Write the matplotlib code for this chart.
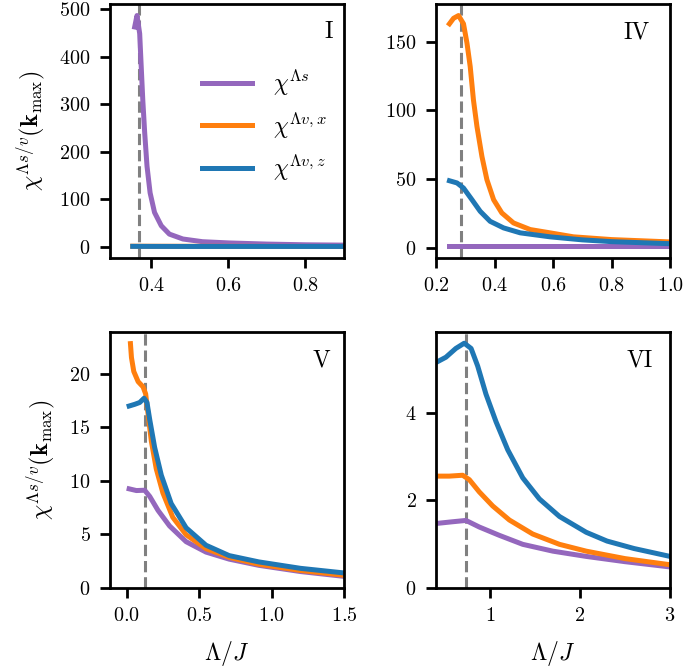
import matplotlib
matplotlib.use("Agg")
import matplotlib.pyplot as plt

plt.rcParams['font.family'] = 'serif'
plt.rcParams['font.serif'] = ['cmr10']
plt.rcParams['mathtext.fontset'] = 'cm'
plt.rcParams['axes.formatter.use_mathtext'] = True

PURPLE = '#9467bd'
ORANGE = '#ff7f0e'
BLUE = '#1f77b4'

# ---- Panel I ----
I_x_s = [0.357, 0.363, 0.370, 0.374, 0.378, 0.383, 0.389, 0.397, 0.4085, 0.426, 0.447, 0.482, 0.533, 0.602, 0.7, 0.8, 0.9]
I_y_s = [463, 487, 449, 379, 310, 240, 170, 114, 72.6, 44.6, 27, 16.7, 11, 8.4, 6, 4.5, 3.8]
I_x_v = [0.352, 0.4, 0.5, 0.6, 0.7, 0.8, 0.9]
I_y_vx = [1.5, 1.4, 1.3, 1.2, 1.1, 1.0, 1.0]
I_y_vz = [1.2, 1.1, 1.0, 1.0, 1.0, 1.0, 1.0]
I_crit = 0.368

# ---- Panel IV ----
IV_x_vx = [0.246, 0.260, 0.277, 0.294, 0.306, 0.317, 0.328, 0.340, 0.357, 0.374, 0.397, 0.425, 0.465, 0.522, 0.590, 0.67, 0.8, 1.0]
IV_y_vx = [163, 167, 169, 163, 148.8, 131.8, 107.6, 88.3, 66.5, 49.6, 35, 25.4, 18.1, 13.3, 10.9, 8, 6, 4.3]
IV_x_vz = [0.246, 0.272, 0.294, 0.323, 0.351, 0.385, 0.431, 0.488, 0.590, 0.7, 0.8, 1.0]
IV_y_vz = [48.8, 47.2, 43.5, 35, 26.6, 19.3, 14.5, 10.9, 8, 5.8, 4.5, 3.0]
IV_x_s = [0.246, 0.4, 0.6, 0.8, 1.0]
IV_y_s = [1.0, 1.0, 1.0, 1.0, 1.0]
IV_crit = 0.286

# ---- Panel V ----
V_x_vx = [0.027, 0.034, 0.05, 0.08, 0.114, 0.132, 0.148, 0.171, 0.205, 0.251, 0.319, 0.411, 0.548, 0.708, 0.913, 1.2, 1.5]
V_y_vx = [22.8, 21.5, 20.2, 19.25, 18.76, 18.1, 16.3, 13.7, 11.1, 8.84, 6.57, 4.94, 3.64, 2.83, 2.18, 1.6, 1.15]
V_x_vz = [0.018, 0.057, 0.091, 0.121, 0.141, 0.160, 0.194, 0.240, 0.308, 0.411, 0.548, 0.708, 0.913, 1.2, 1.5]
V_y_vz = [16.97, 17.13, 17.3, 17.7, 17.3, 15.7, 13.1, 10.5, 7.86, 5.59, 3.96, 2.99, 2.40, 1.8, 1.37]
V_x_s = [0.018, 0.068, 0.125, 0.160, 0.217, 0.297, 0.411, 0.548, 0.708, 0.913, 1.2, 1.5]
V_y_s = [9.23, 9.07, 9.1, 8.52, 7.22, 5.76, 4.29, 3.32, 2.66, 2.08, 1.5, 1.05]
V_crit = 0.13

# ---- Panel VI ----
VI_x_vz = [0.40, 0.51, 0.62, 0.714, 0.79, 0.863, 0.955, 1.067, 1.197, 1.364, 1.549, 1.772, 2.069, 2.3, 2.6, 3.0]
VI_y_vz = [5.14, 5.26, 5.46, 5.58, 5.46, 5.06, 4.42, 3.79, 3.15, 2.51, 2.03, 1.63, 1.27, 1.07, 0.9, 0.72]
VI_x_vx = [0.40, 0.547, 0.696, 0.77, 0.881, 1.03, 1.215, 1.475, 1.772, 2.069, 2.5, 3.0]
VI_y_vx = [2.55, 2.55, 2.57, 2.47, 2.19, 1.87, 1.55, 1.23, 0.995, 0.84, 0.67, 0.53]
VI_x_s = [0.40, 0.585, 0.733, 0.881, 1.104, 1.364, 1.698, 2.069, 2.5, 3.0]
VI_y_s = [1.47, 1.51, 1.54, 1.39, 1.2, 0.995, 0.84, 0.72, 0.6, 0.48]
VI_crit = 0.733

labels = [r'$\chi^{\Lambda s}$', r'$\chi^{\Lambda v,x}$', r'$\chi^{\Lambda v,z}$']

W, H = 685, 670
fig = plt.figure(figsize=(W / 100, H / 100), dpi=100)

def axes_px(l, t, r, b):
    return fig.add_axes([l / W, 1 - b / H, (r - l) / W, (b - t) / H])

axI = axes_px(110, 4, 344, 258)
axIV = axes_px(436, 4, 670, 258)
axV = axes_px(110, 332, 344, 588)
axVI = axes_px(436, 332, 670, 588)

LW = 3.6
DASH = dict(color='gray', ls='--', lw=2.2)

def style(ax):
    for sp in ax.spines.values():
        sp.set_linewidth(2.0)
    ax.tick_params(direction='out', length=7, width=2.0, labelsize=14.5, pad=7)

# Panel I
axI.axvline(I_crit, **DASH)
axI.plot(I_x_s, I_y_s, color=PURPLE, lw=LW, label=labels[0])
axI.plot(I_x_v, I_y_vx, color=ORANGE, lw=LW, label=labels[1])
axI.plot(I_x_v, I_y_vz, color=BLUE, lw=LW, label=labels[2])
axI.set_xlim(0.293, 0.9)
axI.set_xticks([0.4, 0.6, 0.8])
axI.set_yticks([0, 100, 200, 300, 400, 500])
axI.legend(loc='upper left', bbox_to_anchor=(0.395, 0.75), frameon=False,
           fontsize=17, handlelength=2.1, borderpad=0, borderaxespad=0,
           labelspacing=0.5, handletextpad=0.9)

# Panel IV
axIV.axvline(IV_crit, **DASH)
axIV.plot(IV_x_s, IV_y_s, color=PURPLE, lw=LW)
axIV.plot(IV_x_vx, IV_y_vx, color=ORANGE, lw=LW)
axIV.plot(IV_x_vz, IV_y_vz, color=BLUE, lw=LW)
axIV.set_xlim(0.2, 1.0)
axIV.set_xticks([0.2, 0.4, 0.6, 0.8, 1.0])
axIV.set_yticks([0, 50, 100, 150])

# Panel V
axV.axvline(V_crit, **DASH)
axV.plot(V_x_s, V_y_s, color=PURPLE, lw=LW)
axV.plot(V_x_vx, V_y_vx, color=ORANGE, lw=LW)
axV.plot(V_x_vz, V_y_vz, color=BLUE, lw=LW)
axV.set_xlim(-0.114, 1.5)
axV.set_xticks([0.0, 0.5, 1.0, 1.5])
axV.set_yticks([0, 5, 10, 15, 20])

# Panel VI
axVI.axvline(VI_crit, **DASH)
axVI.plot(VI_x_s, VI_y_s, color=PURPLE, lw=LW)
axVI.plot(VI_x_vx, VI_y_vx, color=ORANGE, lw=LW)
axVI.plot(VI_x_vz, VI_y_vz, color=BLUE, lw=LW)
axVI.set_xlim(0.4, 3.0)
axVI.set_xticks([1, 2, 3])
axVI.set_yticks([0, 2, 4])

for ax in (axI, axIV, axV, axVI):
    style(ax)

ylab = r'$\chi^{\Lambda s/v}(\mathbf{k}_{\max})$'
axI.set_ylabel(ylab, fontsize=17.5, labelpad=9)
axV.set_ylabel(ylab, fontsize=17.5, labelpad=9)
axV.set_xlabel(r'$\Lambda/J$', fontsize=17, labelpad=10)
axVI.set_xlabel(r'$\Lambda/J$', fontsize=17, labelpad=10)

for ax, txt, xr in ((axI, 'I', 0.953), (axIV, 'IV', 0.915), (axV, 'V', 0.94), (axVI, 'VI', 0.927)):
    ax.text(xr, 0.89, txt, transform=ax.transAxes, ha='right', va='center', fontsize=17)

fig.savefig('out.png', dpi=100)
